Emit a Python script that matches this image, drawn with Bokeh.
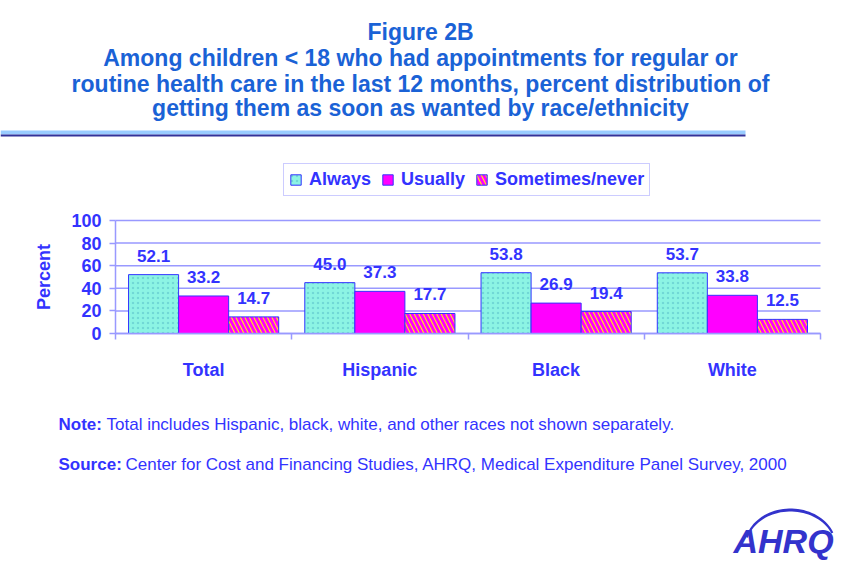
import numpy as np
from bokeh.plotting import figure
from bokeh.models import (ColumnDataSource, Range1d, LinearAxis, FixedTicker,
                          Legend, LegendItem, Label, LabelSet, PolyAnnotation, BoxAnnotation)
from bokeh.transform import dodge
from bokeh.core.properties import value
from bokeh.embed import file_html
from bokeh.resources import INLINE

# ---- data ----
categories = ["Total", "Hispanic", "Black", "White"]
always = [52.1, 45.0, 53.8, 53.7]
usually = [33.2, 37.3, 26.9, 33.8]
sometimes = [14.7, 17.7, 19.4, 12.5]
series_names = ["Always", "Usually", "Sometimes/never"]
y_ticks = [0, 20, 40, 60, 80, 100]

title_lines = ["Figure 2B",
               "Among children < 18 who had appointments for regular or",
               "routine health care in the last 12 months, percent distribution of",
               "getting them as soon as wanted by race/ethnicity"]
note_parts = [("Note:", "Total includes Hispanic, black, white, and other races not shown separately."),
              ("Source:", "Center for Cost and Financing Studies, AHRQ, Medical Expenditure Panel Survey, 2000")]

FONT = "Liberation Sans"
BLUE = "#3333FF"
TITLE_BLUE = "#1A62D6"
GRID = "#9999FF"
OUTLINE = "#3333FF"
CYAN = "#8CF4E4"
MAGENTA = "#FF00FF"
YELLOW = "#FFFF00"

# ---- layout (pixels) ----
W, H = 853, 569
PX_L, PX_R = 115, 820      # plot area x extent
PX_T, PX_B = 220, 333      # plot area y extent (top = 100, bottom = 0)
n = len(categories)
xs = (PX_R - PX_L) / n
ys = (PX_B - PX_T) / 100.0
x_range = Range1d(-PX_L / xs, n + (W - PX_R) / xs)
y_range = Range1d(-(H - PX_B) / ys, PX_B / ys)

centers = [i + 0.5 for i in range(n)]
src = ColumnDataSource(dict(
    xc=centers, always=always, usually=usually, sometimes=sometimes,
    always_t=["%.1f" % v for v in always],
    usually_t=["%.1f" % v for v in usually],
    sometimes_t=["%.1f" % v for v in sometimes],
))

p = figure(width=W, height=H, x_range=x_range, y_range=y_range,
           output_backend="svg", toolbar_location=None,
           x_axis_location=None, y_axis_location=None,
           min_border=0)
p.outline_line_color = None
p.background_fill_color = "white"
p.xgrid.visible = False
p.ygrid.visible = False

# grid lines at the y ticks, spanning the category extent
p.segment(x0=0, x1=n, y0=y_ticks, y1=y_ticks, line_color=GRID, line_width=1.5)

bw = 0.284
r1 = p.vbar(x=dodge("xc", -bw), top="always", width=bw, source=src,
            fill_color=CYAN, line_color=OUTLINE, line_width=1,
            hatch_pattern=".", hatch_color="#55BBC8", hatch_scale=5, hatch_weight=1, hatch_alpha=0.5)
r2 = p.vbar(x=dodge("xc", 0), top="usually", width=bw, source=src,
            fill_color=MAGENTA, line_color=OUTLINE, line_width=1)
r3 = p.vbar(x=dodge("xc", bw), top="sometimes", width=bw, source=src,
            fill_color=YELLOW, line_color=OUTLINE, line_width=1,
            hatch_pattern="\\", hatch_color=MAGENTA, hatch_scale=9, hatch_weight=3)

for off, col in [(-bw, "always"), (0, "usually"), (bw, "sometimes")]:
    p.add_layout(LabelSet(x=dodge("xc", off), y=col, text=col + "_t", source=src,
                          text_align="center", text_baseline="alphabetic", y_offset=13,
                          text_font=value(FONT), text_font_style="bold", text_font_size="17px",
                          text_color=BLUE))

# y axis
yax = LinearAxis(fixed_location=0, bounds=(0, 100), ticker=FixedTicker(ticks=y_ticks),
                 major_label_text_font=FONT, major_label_text_font_style="bold",
                 major_label_text_font_size="18px", major_label_text_color=BLUE,
                 axis_line_color=GRID, axis_line_width=1.5,
                 major_tick_line_color=GRID, major_tick_line_width=1.5,
                 major_tick_in=0, major_tick_out=6, minor_tick_line_color=None,
                 major_label_standoff=8,
                 axis_label="Percent", axis_label_text_font=FONT, axis_label_text_font_style="bold",
                 axis_label_text_font_size="18px", axis_label_text_color=BLUE,
                 axis_label_standoff=14)
p.add_layout(yax, "left")

# x axis: labels at category centres, small ticks at category boundaries
cat_axis = LinearAxis(fixed_location=0, bounds=(0, n),
                      ticker=FixedTicker(ticks=centers, minor_ticks=list(range(n + 1))),
                      major_label_overrides={c: nm for c, nm in zip(centers, categories)},
                      axis_line_color=GRID, axis_line_width=1.5,
                      major_tick_line_color=None, major_tick_in=0, major_tick_out=0,
                      minor_tick_line_color=GRID, minor_tick_line_width=1.5,
                      minor_tick_in=0, minor_tick_out=6,
                      major_label_text_font=FONT, major_label_text_font_style="bold",
                      major_label_text_font_size="18px", major_label_text_color=BLUE,
                      major_label_standoff=20)
p.add_layout(cat_axis, "below")

# legend
legend = Legend(items=[LegendItem(label=nm, renderers=[r]) for nm, r in zip(series_names, [r1, r2, r3])],
                orientation="horizontal", location=(283, H - 196),
                label_text_font=FONT, label_text_font_style="bold", label_text_font_size="18px",
                label_text_color=BLUE, glyph_width=13, glyph_height=13, label_standoff=7,
                spacing=10, padding=5, margin=0, border_line_color=GRID, border_line_width=1.5,
                background_fill_color="white", background_fill_alpha=1)
p.add_layout(legend, "center")

# title
title_y = [31, 57, 83, 107]
for t, y in zip(title_lines, title_y):
    p.add_layout(Label(x=420, y=y, x_units="canvas", y_units="canvas", text=t,
                       text_align="center", text_baseline="middle", text_font=FONT,
                       text_font_style="bold", text_font_size="23px", text_color=TITLE_BLUE))

# rule under title
p.add_layout(BoxAnnotation(left=0, right=745, top=130, bottom=134, left_units="canvas",
                           right_units="canvas", top_units="canvas", bottom_units="canvas",
                           fill_color="#99CCFF", fill_alpha=1, line_color=None))
p.add_layout(BoxAnnotation(left=0, right=745, top=134, bottom=136, left_units="canvas",
                           right_units="canvas", top_units="canvas", bottom_units="canvas",
                           fill_color="#333399", fill_alpha=1, line_color=None))

# notes
for (b, t), y, x2 in zip(note_parts, [424, 464], [106, 125]):
    p.add_layout(Label(x=58, y=y, x_units="canvas", y_units="canvas", text=b, text_baseline="middle",
                       text_font=FONT, text_font_style="bold", text_font_size="17px", text_color=BLUE))
    p.add_layout(Label(x=x2, y=y, x_units="canvas", y_units="canvas", text=t, text_baseline="middle",
                       text_font=FONT, text_font_size="17px", text_color=BLUE))

# logo
p.add_layout(Label(x=733, y=540, x_units="canvas", y_units="canvas", text="AHRQ",
                   text_baseline="middle", text_font=FONT, text_font_style="bold italic",
                   text_font_size="34px", text_color="#3333CC"))
ang = np.linspace(np.pi * 0.92, np.pi * 0.12, 40)
cx, cy = 790, 546
xo = cx + 46 * np.cos(ang); yo = cy - 38 * np.sin(ang)
xi = cx + 44 * np.cos(ang[::-1]); yi = cy - 35 * np.sin(ang[::-1])
p.add_layout(PolyAnnotation(xs=list(np.concatenate([xo, xi])), ys=list(np.concatenate([yo, yi])),
                            xs_units="canvas", ys_units="canvas",
                            fill_color="#3333CC", fill_alpha=1, line_color=None))

open("out.html", "w").write(file_html(p, INLINE))
